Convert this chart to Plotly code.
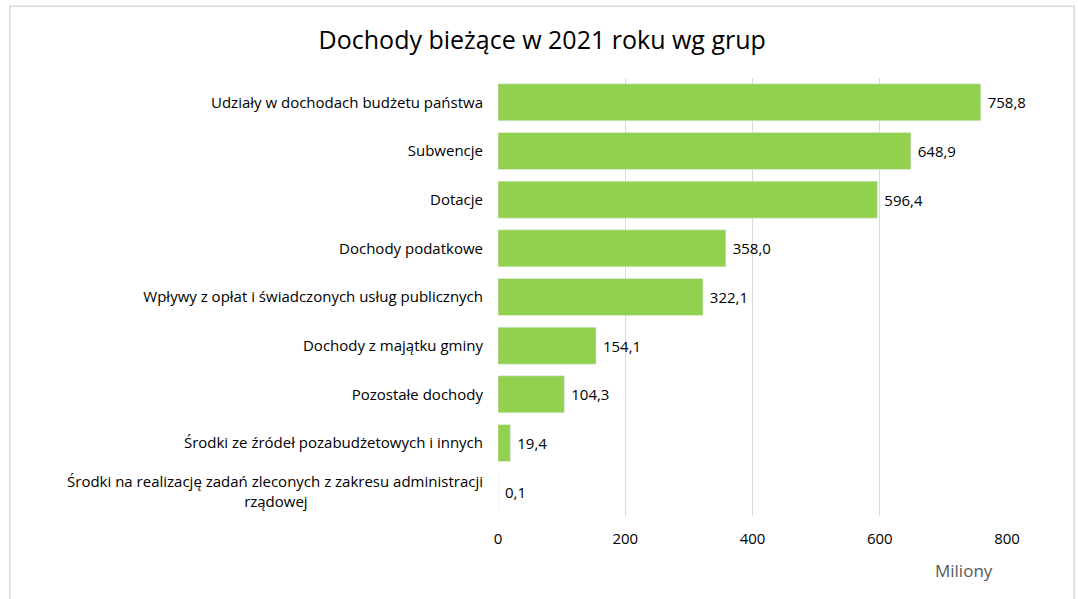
import plotly.graph_objects as go

NB = "\u00a0"

categories = [
    "Udziały w dochodach budżetu państwa",
    "Subwencje",
    "Dotacje",
    "Dochody podatkowe",
    "Wpływy z opłat i świadczonych usług publicznych",
    "Dochody z majątku gminy",
    "Pozostałe dochody",
    "Środki ze źródeł pozabudżetowych i innych",
    "Środki na realizację zadań zleconych z zakresu administracji<br>rządowej" + NB * 45,
]
values = [758.8, 648.9, 596.4, 358.0, 322.1, 154.1, 104.3, 19.4, 0.1]
x_ticks = [0, 200, 400, 600, 800]

fig = go.Figure()

fig.add_trace(go.Bar(
    x=values,
    y=categories,
    orientation="h",
    marker=dict(color="#92D050"),
    texttemplate=NB + "%{x:.1f}",
    textposition="outside",
    textfont=dict(size=15, color="#000000"),
    cliponaxis=False,
    hoverinfo="x",
))

# chart frame (bottom edge falls outside the picture, like the reference)
fig.add_shape(
    type="rect", xref="paper", yref="paper",
    x0=-0.959, x1=1.132, y0=-0.2, y1=1.164,
    line=dict(color="#D9D9D9", width=1.5),
    fillcolor="rgba(0,0,0,0)",
)

fig.add_annotation(
    text="Miliony", xref="paper", yref="paper",
    x=0.915, y=-0.125, xanchor="center", yanchor="middle",
    showarrow=False,
    font=dict(size=17, color="#595959"),
)

fig.update_layout(
    title=dict(
        text="Dochody bieżące w 2021 roku wg grup",
        x=0.503, xref="container", xanchor="center",
        y=0.933, yref="container", yanchor="middle",
        font=dict(size=25, color="#000000"),
    ),
    width=1078,
    height=599,
    margin=dict(l=498, r=71, t=78, b=83),
    separators=", ",
    font=dict(family="'Open Sans', Lato, sans-serif", size=15, color="#000000"),
    plot_bgcolor="white",
    paper_bgcolor="white",
    bargap=0.24,
    showlegend=False,
    xaxis=dict(
        range=[0, 800],
        tickvals=x_ticks,
        showgrid=True,
        gridcolor="#D9D9D9",
        gridwidth=1,
        zeroline=False,
        showline=False,
        tickfont=dict(size=15),
        ticks="",
        ticklabelstandoff=12,
    ),
    yaxis=dict(
        autorange="reversed",
        showgrid=False,
        showline=False,
        ticks="",
        tickfont=dict(size=15),
        ticklabelstandoff=14,
    ),
)

fig.write_html(
    "out.html",
    config={"displayModeBar": False},
    post_script="document.body.style.margin='0';",
)
